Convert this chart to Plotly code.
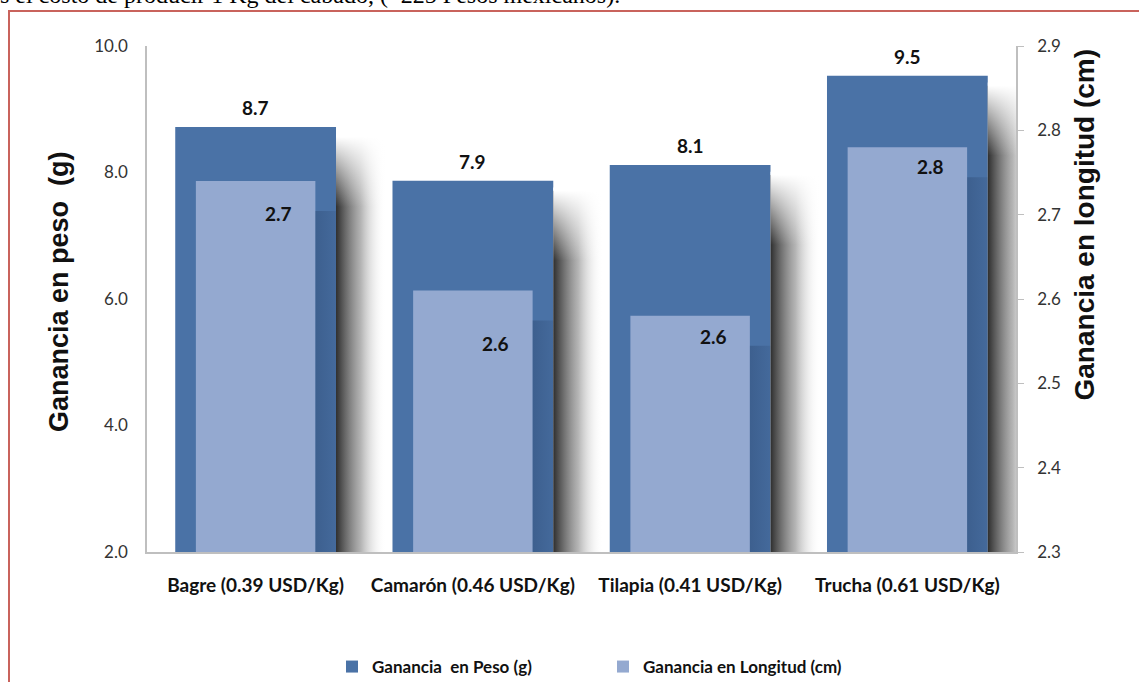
import plotly.graph_objects as go

# --- data -----------------------------------------------------------------
categories = [
    "Bagre (0.39 USD/Kg)",
    "Camarón (0.46 USD/Kg)",
    "Tilapia (0.41 USD/Kg)",
    "Trucha (0.61 USD/Kg)",
]
ganancia_peso = [8.72, 7.87, 8.12, 9.53]        # g
ganancia_longitud = [2.74, 2.61, 2.58, 2.78]    # cm

peso_ticks = [2.0, 4.0, 6.0, 8.0, 10.0]
longitud_ticks = [2.3, 2.4, 2.5, 2.6, 2.7, 2.8, 2.9]

# --- styling --------------------------------------------------------------
DARK = "#4A72A6"
LIGHT = "#94A9D0"
AXIS = "#BFBFBF"
FONT = "Lato"
W, H = 1139, 682
L, R, T, B = 147, 123, 46, 130
PW, PH = W - L - R, H - T - B

DARK_W = 0.74      # bar width in category units
LIGHT_W = 0.55
SHADOW_W = 0.23    # width of the soft drop shadow

y_rng = [2.0, 10.0]
y2_rng = [2.3, 2.9]
x = list(range(len(categories)))


def px_x(p):
    return (p - L) / PW


def px_y(p):
    return (H - B - p) / PH


def y_units(pixels, rng):
    return pixels * (rng[1] - rng[0]) / PH


fig = go.Figure()

fig.add_trace(go.Bar(
    x=x, y=ganancia_peso, width=DARK_W, marker=dict(color=DARK, line_width=0),
    name="Ganancia\u00a0 en Peso (g)", yaxis="y", hoverinfo="skip",
))

# soft shadows to the right of the dark bars
for i, v in enumerate(ganancia_peso):
    x0 = i + DARK_W / 2
    x1 = x0 + SHADOW_W
    top = v - y_units(10, y_rng)
    fig.add_trace(go.Scatter(
        x=[x0, x1, x1, x0, x0], y=[y_rng[0], y_rng[0], top, top, y_rng[0]],
        mode="lines", line_width=0, fill="toself", yaxis="y",
        fillgradient=dict(type="horizontal", start=x0, stop=x1,
                          colorscale=[[0, "rgba(35,35,35,0.95)"], [0.5, "rgba(120,120,120,0.55)"],
                                      [1, "rgba(255,255,255,0)"]]),
        showlegend=False, hoverinfo="skip",
    ))
    fade = y_units(70, y_rng)
    fig.add_trace(go.Scatter(
        x=[x0, x1, x1, x0, x0], y=[top - fade, top - fade, top + 0.05, top + 0.05, top - fade],
        mode="lines", line_width=0, fill="toself", yaxis="y",
        fillgradient=dict(type="vertical", start=top, stop=top - fade,
                          colorscale=[[0, "rgba(255,255,255,1)"], [1, "rgba(255,255,255,0)"]]),
        showlegend=False, hoverinfo="skip",
    ))

# faint darker strip cast by the light bars onto the dark bars
for i, v in enumerate(ganancia_longitud):
    x0 = i + LIGHT_W / 2
    x1 = i + DARK_W / 2
    top = v - y_units(30, y2_rng)
    fig.add_trace(go.Scatter(
        x=[x0, x1, x1, x0, x0], y=[y2_rng[0], y2_rng[0], top, top, y2_rng[0]],
        mode="lines", line_width=0, fill="toself", yaxis="y2",
        fillgradient=dict(type="horizontal", start=x0, stop=x1,
                          colorscale=[[0, "rgba(15,30,60,0.22)"], [1, "rgba(15,30,60,0.10)"]]),
        showlegend=False, hoverinfo="skip",
    ))

fig.add_trace(go.Bar(
    x=x, y=ganancia_longitud, width=LIGHT_W, marker=dict(color=LIGHT, line_width=0),
    name="Ganancia en Longitud (cm)", yaxis="y2", hoverinfo="skip",
))

# value labels
for i, v in enumerate(ganancia_peso):
    fig.add_annotation(x=i, y=v, xref="x", yref="y", text=f"{v:.1f}", showarrow=False,
                       yanchor="middle", yshift=19,
                       font=dict(family=FONT, size=19, color="#111111", weight="bold"))

light_label_dy = [-33, -53, -21, -19]
for i, v in enumerate(ganancia_longitud):
    fig.add_annotation(x=i, y=v, xref="x", yref="y2", text=f"{v:.1f}", showarrow=False,
                       yanchor="middle", xshift=23, yshift=light_label_dy[i],
                       font=dict(family=FONT, size=19, color="#111111", weight="bold"))

# axis titles
fig.add_annotation(x=px_x(42), y=px_y(292), xref="paper", yref="paper",
                   text="Ganancia en peso\u00a0 (g)", textangle=-90, showarrow=False,
                   font=dict(family="Liberation Sans", size=27, color="#111111", weight="bold"))
fig.add_annotation(x=px_x(1102), y=px_y(225), xref="paper", yref="paper",
                   text="Ganancia en longitud (cm)", textangle=-90, showarrow=False,
                   font=dict(family="Liberation Sans", size=28, color="#111111", weight="bold"))

# running text above the frame
fig.add_annotation(x=px_x(-2), y=px_y(-5), xref="paper", yref="paper", xanchor="left",
                   yanchor="middle", showarrow=False,
                   text="s el costo de producir 1 Kg del cabado, (~225 Pesos mexicanos).",
                   font=dict(family="Liberation Serif", size=24, color="#000000"))

# frame
fig.add_shape(type="rect", xref="paper", yref="paper",
              x0=px_x(9), x1=px_x(1170), y0=px_y(720), y1=px_y(11),
              line=dict(color="#C9635C", width=2), fillcolor="rgba(0,0,0,0)", layer="above")

fig.update_layout(
    width=W, height=H,
    margin=dict(l=L, r=R, t=T, b=B, autoexpand=False),
    paper_bgcolor="white", plot_bgcolor="white",
    barmode="overlay",
    showlegend=True,
    legend=dict(orientation="h", x=px_x(332), xanchor="left", y=px_y(667), yanchor="middle",
                font=dict(family=FONT, size=17, color="#111111", weight="bold"),
                entrywidth=226, entrywidthmode="pixels", traceorder="normal"),
    xaxis=dict(range=[-0.5, len(categories) - 0.5], tickvals=x, ticktext=categories,
               showline=True, linecolor=AXIS, linewidth=1.5, ticks="", showgrid=False,
               zeroline=False, ticklabelstandoff=15,
               tickfont=dict(family=FONT, size=19, color="#111111", weight="bold")),
    yaxis=dict(range=y_rng, tickvals=peso_ticks, tickformat=".1f", showline=True,
               linecolor=AXIS, linewidth=1.5, ticks="", showgrid=False, zeroline=False,
               ticklabelstandoff=14, tickfont=dict(family=FONT, size=17, color="#333333")),
    yaxis2=dict(range=y2_rng, tickvals=longitud_ticks, tickformat=".1f", overlaying="y",
                side="right", showline=True, linecolor=AXIS, linewidth=1.5, ticks="outside",
                ticklen=6, tickcolor=AXIS, showgrid=False, zeroline=False,
                ticklabelstandoff=10, tickfont=dict(family=FONT, size=17, color="#333333")),
)

fig.write_html("out.html")
